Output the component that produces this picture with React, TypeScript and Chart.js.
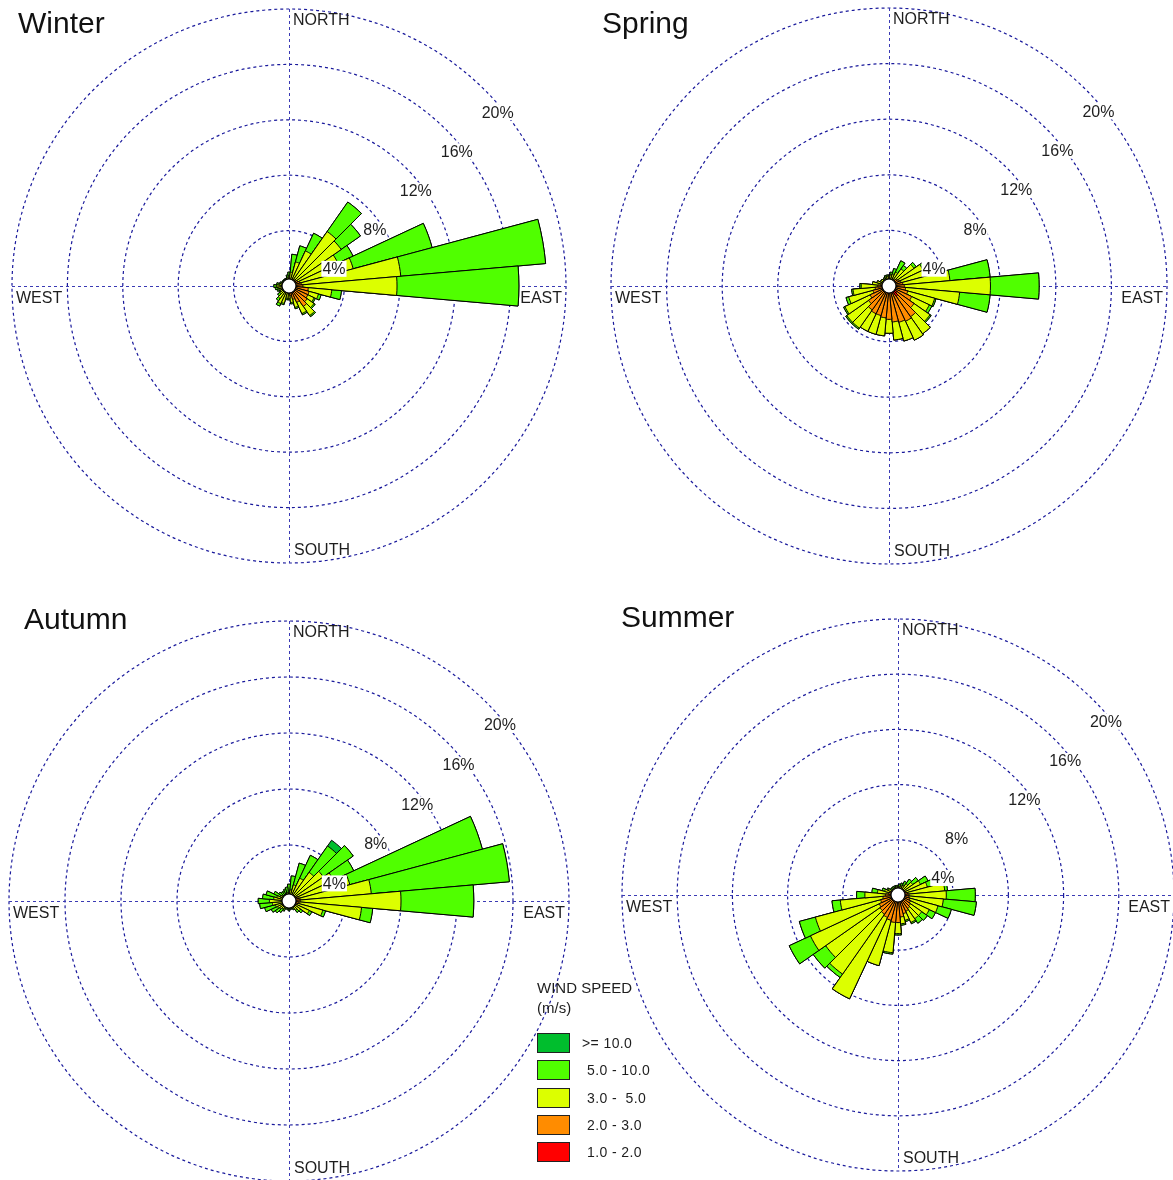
import React, { useEffect, useRef } from "react";
import { Chart, registerables } from "chart.js";

Chart.register(...registerables);

// ---------- categories ----------
const DIRECTIONS = [
  "0", "10", "20", "30", "40", "50", "60", "70", "80", "90", "100", "110",
  "120", "130", "140", "150", "160", "170", "180", "190", "200", "210", "220", "230",
  "240", "250", "260", "270", "280", "290", "300", "310", "320", "330", "340", "350",
];
const SPEED_CLASSES = ["1.0 - 2.0", "2.0 - 3.0", "3.0 -  5.0", "5.0 - 10.0", ">= 10.0"];
const CLASS_COLORS = ["#ff0000", "#ff8c00", "#dcff00", "#50ff00", "#00be2d"];
const RING_VALUES = [4, 8, 12, 16, 20];
const RING_LABELS = ["4%", "8%", "12%", "16%", "20%"];
const COMPASS = ["NORTH", "EAST", "SOUTH", "WEST"];

// ---------- Winter (% frequency per direction, per speed class) ----------
const WINTER_1_2 = [0.2,0.2,0.2,0.2,0.2,0.2,0.2,0.2,0.3,0.3,0.3,0.3,0.3,0.3,0.3,0.3,0.2,0.2,0.2,0.2,0.2,0.2,0.2,0.2,0.2,0.2,0.2,0.2,0.2,0.2,0.2,0.2,0.2,0.2,0.2,0.2];
const WINTER_2_3 = [0.2,0.2,0.3,0.3,0.4,0.4,0.5,0.6,0.6,0.7,1.1,1.2,1.2,1.3,1.5,1.0,0.8,0.5,0.3,0.3,0.3,0.3,0.2,0.2,0.2,0.2,0.2,0.2,0.2,0.1,0.1,0.1,0.1,0.1,0.1,0.1];
const WINTER_3_5 = [0.3,0.6,1.3,2.3,4.2,4.0,3.2,4.0,7.2,6.8,1.7,0.7,0.5,0.6,0.8,0.9,0.6,0.5,0.4,0.4,0.8,0.9,0.7,0.4,0.3,0.3,0.4,0.5,0.3,0.3,0.2,0.2,0.2,0.2,0.2,0.3];
const WINTER_5_10 = [0.3,1.3,1.2,1.4,2.6,1.7,1.2,5.9,10.5,8.8,0.7,0.2,0.1,0.1,0.1,0.1,0.1,0.1,0.1,0.1,0.1,0.2,0.2,0.2,0.1,0.2,0.2,0.2,0.2,0.1,0.1,0.1,0.1,0.1,0.1,0.2];
const WINTER_10P = [0,0,0,0,0,0,0,0,0,0,0,0,0,0,0,0,0,0,0,0,0,0,0,0,0,0,0,0,0,0,0,0,0,0,0,0];

// ---------- Spring ----------
const SPRING_1_2 = [0.2,0.2,0.2,0.2,0.2,0.2,0.3,0.3,0.3,0.3,0.3,0.4,0.5,0.7,0.9,0.6,0.5,0.4,0.4,0.4,0.4,0.4,0.4,0.3,0.3,0.3,0.3,0.2,0.2,0.2,0.2,0.2,0.2,0.2,0.2,0.2];
const SPRING_2_3 = [0.3,0.3,0.3,0.3,0.4,0.5,0.5,0.6,0.7,0.8,0.9,1.0,1.3,1.5,1.8,2.2,2.2,2.2,2.0,1.9,1.8,1.8,1.7,1.5,1.2,0.9,0.7,0.6,0.4,0.3,0.2,0.2,0.2,0.2,0.2,0.3];
const SPRING_3_5 = [0.2,0.3,0.4,0.6,0.9,1.5,1.9,2.1,3.4,6.2,3.9,2.0,1.4,1.4,1.5,1.5,1.4,1.3,1.0,1.3,1.4,1.4,1.6,1.9,2.0,1.8,1.6,1.2,0.6,0.4,0.3,0.3,0.2,0.2,0.3,0.2];
const SPRING_5_10 = [0.1,0.2,0.4,0.9,0.3,0.2,0.2,0.2,2.9,3.5,2.2,0.1,0.2,0.1,0,0,0,0,0,0,0,0,0.1,0.1,0.1,0.2,0.1,0.1,0,0,0,0,0,0.1,0.1,0.1];
const SPRING_10P = [0,0,0,0,0,0,0,0,0,0,0,0,0,0,0,0,0,0,0,0,0,0,0,0,0,0,0,0,0,0,0,0,0,0,0,0];

// ---------- Autumn ----------
const AUTUMN_1_2 = [0.2,0.2,0.2,0.2,0.2,0.2,0.2,0.2,0.2,0.2,0.2,0.2,0.2,0.2,0.2,0.2,0.1,0.1,0.1,0.1,0.1,0.1,0.1,0.1,0.1,0.1,0.1,0.1,0.1,0.1,0.1,0.1,0.1,0.1,0.1,0.2];
const AUTUMN_2_3 = [0.1,0.1,0.2,0.2,0.3,0.3,0.4,0.5,0.6,0.6,0.5,0.4,0.3,0.2,0.2,0.1,0.2,0.2,0.2,0.2,0.2,0.2,0.2,0.2,0.2,0.2,0.2,0.2,0.2,0.2,0.2,0.2,0.2,0.2,0.2,0.1];
const AUTUMN_3_5 = [0.3,0.5,0.8,1.4,2.0,2.5,2.9,3.8,5.1,7.2,4.5,1.9,1.1,0.6,0.4,0.3,0.2,0.2,0.2,0.2,0.2,0.3,0.4,0.5,0.6,0.7,0.9,1.1,0.8,0.6,0.4,0.3,0.2,0.2,0.2,0.3];
const AUTUMN_5_10 = [0.6,1.0,1.6,1.8,2.3,2.6,1.6,9.8,9.9,5.2,0.8,0.2,0.2,0.2,0.2,0.1,0.1,0.1,0.2,0.1,0.1,0.2,0.3,0.4,0.5,0.8,0.9,0.8,0.8,0.8,0.5,0.3,0.3,0.3,0.4,0.4];
const AUTUMN_10P = [0,0,0,0,0.5,0,0,0,0,0,0,0,0,0,0,0,0,0,0,0,0,0,0,0,0,0,0,0,0,0,0,0,0,0,0,0];

// ---------- Summer ----------
const SUMMER_1_2 = [0.2,0.2,0.2,0.2,0.2,0.2,0.2,0.2,0.2,0.2,0.2,0.2,0.3,0.3,0.3,0.3,0.3,0.3,0.3,0.3,0.3,0.3,0.3,0.3,0.3,0.3,0.3,0.2,0.2,0.2,0.2,0.2,0.2,0.2,0.2,0.2];
const SUMMER_2_3 = [0.2,0.2,0.2,0.2,0.3,0.3,0.4,0.4,0.5,0.6,0.6,0.7,0.7,0.8,0.9,1.0,1.1,1.3,1.7,1.7,1.6,1.5,1.4,1.3,1.2,1.0,0.8,0.7,0.5,0.4,0.3,0.2,0.2,0.2,0.2,0.2];
const SUMMER_3_5 = [0.2,0.2,0.3,0.4,0.5,0.8,1.2,1.6,2.7,2.7,2.5,2.1,1.5,1.0,0.9,0.9,0.5,0.5,0.8,2.2,3.4,6.5,5.3,4.8,5.5,4.9,3.1,1.5,0.8,0.4,0.3,0.2,0.2,0.2,0.2,0.2];
const SUMMER_5_10 = [0.1,0.2,0.2,0.3,0.4,0.5,0.6,0.5,0.2,2.1,2.4,1.0,0.5,0.5,0.4,0.1,0.1,0.1,0.1,0.1,0,0,0.3,1.1,1.7,1.2,0.6,0.6,0.4,0.2,0.1,0.1,0.1,0.1,0.1,0.1];
const SUMMER_10P = [0,0,0,0,0,0,0,0,0,0,0,0,0,0,0,0,0,0,0,0,0,0,0,0,0,0,0,0,0,0,0,0,0,0,0,0];

const GRID_COLOR = "#1a1a9c";
const AXIS_COLOR = "#3a3ab4";
const TEXT_COLOR = "#1e1e1e";
const FONT = '"Liberation Sans", Arial, sans-serif';

type RoseProps = {
  bins: number[][];
  cx: number;
  cy: number;
  R: number;
  pctShift: number[];
};

function WindRose({ bins, cx, cy, R, pctShift }: RoseProps) {
  const ref = useRef<HTMLCanvasElement>(null);

  useEffect(() => {
    if (!ref.current) return;
    const cumulative = bins.map((_, k) =>
      DIRECTIONS.map((_, i) => bins.slice(0, k + 1).reduce((s, b) => s + b[i], 0))
    );

    const rosePlugin = {
      id: "roseDecor",
      beforeDatasetsDraw(chart: any) {
        const s = chart.scales.r;
        const ctx = chart.ctx;
        const r = s.drawingArea;
        const x = s.xCenter;
        const y = s.yCenter;
        ctx.save();
        ctx.strokeStyle = AXIS_COLOR;
        ctx.lineWidth = 1;
        ctx.setLineDash([3, 3]);
        ctx.beginPath();
        ctx.moveTo(x + 0.5, y - r);
        ctx.lineTo(x + 0.5, y + r);
        ctx.moveTo(x - r, y + 0.5);
        ctx.lineTo(x + r, y + 0.5);
        ctx.stroke();
        ctx.restore();
      },
      afterDatasetsDraw(chart: any) {
        const s = chart.scales.r;
        const ctx = chart.ctx;
        const r = s.drawingArea;
        const x = s.xCenter;
        const y = s.yCenter;
        ctx.save();
        // calm circle
        ctx.beginPath();
        ctx.arc(x, y, 7, 0, Math.PI * 2);
        ctx.fillStyle = "#ffffff";
        ctx.fill();
        ctx.lineWidth = 1.2;
        ctx.strokeStyle = "#000";
        ctx.stroke();

        // compass labels
        ctx.font = `16px ${FONT}`;
        ctx.fillStyle = TEXT_COLOR;
        ctx.textBaseline = "middle";
        ctx.textAlign = "left";
        ctx.fillText(COMPASS[0], x + 4, y - r + 12);
        ctx.fillText(COMPASS[2], x + 5, y + r - 12);
        ctx.fillText(COMPASS[3], x - r + 4, y + 13);
        ctx.textAlign = "right";
        ctx.fillText(COMPASS[1], x + r - 4, y + 13);

        // ring percentage labels
        ctx.textAlign = "center";
        RING_VALUES.forEach((v, i) => {
          const d = s.getDistanceFromCenterForValue(v);
          const lx = x + 0.739 * d + 4 + (pctShift[i] || 0);
          const ly = y - 0.707 * d + 22;
          const w = ctx.measureText(RING_LABELS[i]).width;
          ctx.fillStyle = "#ffffff";
          ctx.fillRect(lx - w / 2 - 1, ly - 8, w + 2, 16);
          ctx.fillStyle = TEXT_COLOR;
          ctx.fillText(RING_LABELS[i], lx, ly + 1);
        });
        ctx.restore();
      },
    };

    const chart = new Chart(ref.current, {
      type: "polarArea",
      data: {
        labels: DIRECTIONS,
        datasets: cumulative.map((d, k) => ({
          label: SPEED_CLASSES[k],
          data: d,
          backgroundColor: CLASS_COLORS[k],
          borderColor: "#000000",
          borderWidth: 1,
        })),
      },
      options: {
        animation: false,
        responsive: false,
        maintainAspectRatio: false,
        layout: { padding: 4 },
        plugins: {
          legend: { display: false },
          tooltip: { enabled: false },
          title: { display: false },
        },
        scales: {
          r: {
            min: 0,
            max: 20,
            startAngle: -5,
            ticks: { display: false, stepSize: 4 },
            grid: { color: GRID_COLOR, lineWidth: 1.2, circular: true },
            border: { dash: [3, 3] },
            angleLines: { display: false },
            pointLabels: { display: false },
          },
        },
      } as any,
      plugins: [rosePlugin],
    });
    return () => chart.destroy();
  }, []);

  const size = 2 * R + 8;
  return (
    <canvas
      ref={ref}
      width={size}
      height={size}
      style={{ position: "absolute", left: cx - R - 4, top: cy - R - 4, width: size, height: size }}
    />
  );
}

const titleStyle = (left: number, top: number): React.CSSProperties => ({
  position: "absolute",
  left,
  top,
  fontSize: 30,
  lineHeight: "30px",
  color: "#111",
  fontFamily: FONT,
  whiteSpace: "nowrap",
});

export default function App() {
  const legendRows = [4, 3, 2, 1, 0];
  return (
    <div
      style={{
        position: "fixed",
        left: 0,
        top: 0,
        width: 1173,
        height: 1180,
        overflow: "hidden",
        background: "#ffffff",
        fontFamily: FONT,
      }}
    >
      <WindRose bins={[WINTER_1_2, WINTER_2_3, WINTER_3_5, WINTER_5_10, WINTER_10P]} cx={289} cy={286} R={277} pctShift={[0, 0, 0, 0, 0]} />
      <WindRose bins={[SPRING_1_2, SPRING_2_3, SPRING_3_5, SPRING_5_10, SPRING_10P]} cx={889} cy={286} R={278} pctShift={[0, 0, 0, 0, 0]} />
      <WindRose bins={[AUTUMN_1_2, AUTUMN_2_3, AUTUMN_3_5, AUTUMN_5_10, AUTUMN_10P]} cx={289} cy={901} R={280} pctShift={[0, 0, 0, 0, 0]} />
      <WindRose bins={[SUMMER_1_2, SUMMER_2_3, SUMMER_3_5, SUMMER_5_10, SUMMER_10P]} cx={898} cy={895} R={276} pctShift={[0, -27, 0, 0, 0]} />

      <div style={titleStyle(18, 8)}>Winter</div>
      <div style={titleStyle(602, 8)}>Spring</div>
      <div style={titleStyle(24, 604)}>Autumn</div>
      <div style={titleStyle(621, 602)}>Summer</div>

      <div style={{ position: "absolute", left: 537, top: 979, width: 96, overflow: "hidden", whiteSpace: "nowrap", fontSize: 15, lineHeight: "18px", color: TEXT_COLOR }}>
        WIND SPEED
      </div>
      <div style={{ position: "absolute", left: 537, top: 999, fontSize: 15, lineHeight: "18px", color: TEXT_COLOR }}>(m/s)</div>
      {legendRows.map((k, row) => (
        <React.Fragment key={k}>
          <div
            style={{
              position: "absolute",
              left: 537,
              top: 1033 + row * 27.3,
              width: 31,
              height: 18,
              background: CLASS_COLORS[k],
              border: "1px solid #222",
            }}
          />
          <div
            style={{
              position: "absolute",
              left: k === 4 ? 582 : 587,
              top: 1034 + row * 27.3,
              fontSize: 14,
              lineHeight: "18px",
              letterSpacing: "0.4px",
              whiteSpace: "pre",
              color: TEXT_COLOR,
            }}
          >
            {SPEED_CLASSES[k]}
          </div>
        </React.Fragment>
      ))}
    </div>
  );
}
